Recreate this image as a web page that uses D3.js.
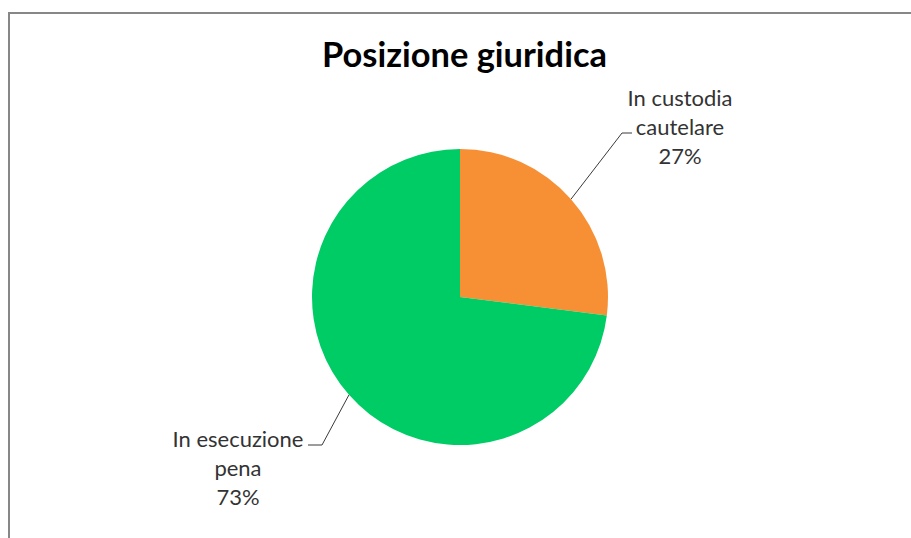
<!DOCTYPE html>
<html>
<head>
<meta charset="utf-8">
<script src="https://cdn.jsdelivr.net/npm/d3@7"></script>
<style>
  html, body { margin: 0; padding: 0; background: #fff; }
  svg { display: block; }
</style>
</head>
<body>
<svg id="chart" width="911" height="538"></svg>
<script>
// ---- data ----
const title = "Posizione giuridica";
const categories = ["In custodia cautelare", "In esecuzione pena"];
const labelLines = [["In custodia", "cautelare"], ["In esecuzione", "pena"]];
const values = [27, 73];
const colors = ["#F79034", "#00CC66"];

// ---- layout ----
const W = 911, H = 538;
const cx = 460, cy = 297, R = 148;
const fontFam = "Lato, 'Open Sans', sans-serif";
// label block anchors (center x, first baseline y), elbow and end of leader lines
const labelLayout = [
  { x: 680, y: 106, elbow: [622, 133], end: [632, 133] },
  { x: 238, y: 447, elbow: [322, 445], end: [308, 445] }
];
const lineGap = 29;

const svg = d3.select("#chart");

// frame (only top and left visible)
svg.append("rect")
  .attr("x", 9).attr("y", 13)
  .attr("width", W + 20).attr("height", H + 20)
  .attr("fill", "none")
  .attr("stroke", "#878787")
  .attr("stroke-width", 2);

// fit text to a target width
function fitText(sel, targetW, maxSize) {
  let size = maxSize;
  sel.attr("font-size", size);
  const w = sel.node().getComputedTextLength();
  size = size * targetW / w;
  sel.attr("font-size", size);
  return size;
}

// title
const t = svg.append("text")
  .attr("x", 464.5).attr("y", 67)
  .attr("text-anchor", "middle")
  .attr("font-family", fontFam)
  .attr("font-weight", "bold")
  .attr("fill", "#000")
  .text(title);
fitText(t, 285, 28);

// pie
const pie = d3.pie().sort(null).value(d => d)(values);
const arc = d3.arc().innerRadius(0).outerRadius(R);
const g = svg.append("g").attr("transform", `translate(${cx},${cy})`);
g.selectAll("path.slice")
  .data(pie)
  .join("path")
  .attr("class", "slice")
  .attr("d", arc)
  .attr("fill", (d, i) => colors[i]);

// leader lines
const total = d3.sum(values);
const edgeArc = d3.arc().innerRadius(R).outerRadius(R);
pie.forEach((d, i) => {
  const mid = (d.startAngle + d.endAngle) / 2;
  const p0 = [cx + R * Math.sin(mid), cy - R * Math.cos(mid)];
  const L = labelLayout[i];
  svg.append("polyline")
    .attr("points", [p0, L.elbow, L.end].map(p => p.join(",")).join(" "))
    .attr("fill", "none")
    .attr("stroke", "#3a3a3a")
    .attr("stroke-width", 1);
});

// labels
let labelSize = null;
pie.forEach((d, i) => {
  const L = labelLayout[i];
  const lines = labelLines[i].concat([Math.round(values[i] / total * 100) + "%"]);
  const txt = svg.append("text")
    .attr("text-anchor", "middle")
    .attr("font-family", fontFam)
    .attr("fill", "#333");
  lines.forEach((ln, k) => {
    txt.append("tspan").attr("x", L.x).attr("y", L.y + k * lineGap).text(ln);
  });
});
// size labels so "In custodia" is ~105px wide
const probe = svg.append("text").attr("font-family", fontFam).text(labelLines[0][0]);
labelSize = fitText(probe, 105, 20);
probe.remove();
svg.selectAll("text").filter(function () { return this.childNodes.length && this.firstChild.nodeName === "tspan"; })
  .attr("font-size", labelSize);
</script>
</body>
</html>
